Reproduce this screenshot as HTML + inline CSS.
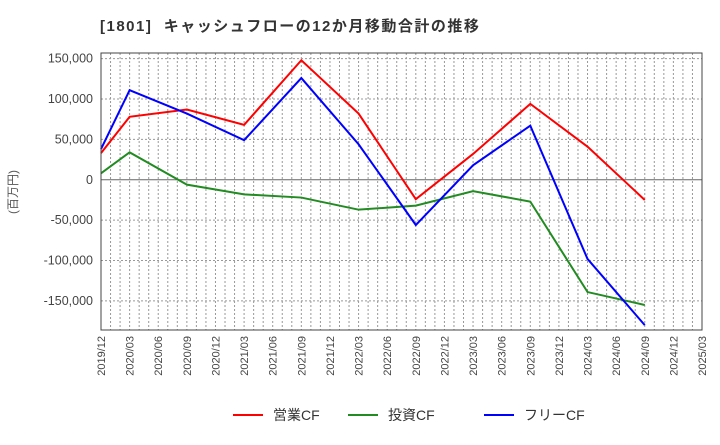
<!DOCTYPE html>
<html><head><meta charset="utf-8"><style>
body{margin:0;background:#fff;font-family:"Liberation Sans","Noto Sans CJK JP",sans-serif;}
svg text{font-family:"Liberation Sans","Noto Sans CJK JP",sans-serif;}
</style></head><body>
<svg id="c" width="720" height="440">
<text x="100" y="31" font-size="15" font-weight="bold" fill="#333" letter-spacing="1.5" xml:space="preserve">[1801]  キャッシュフローの12か月移動合計の推移</text>
<g id="grid"></g><g id="series"></g><g id="axes"></g>
<text transform="translate(17,192) rotate(-90)" text-anchor="middle" font-size="12" fill="#555">(百万円)</text>
<g>
<line x1="233" y1="415" x2="263" y2="415" stroke="#f00" stroke-width="2"/>
<text x="273" y="420" font-size="14" fill="#333">営業CF</text>
<line x1="348" y1="415" x2="378" y2="415" stroke="#228b22" stroke-width="2"/>
<text x="388" y="420" font-size="14" fill="#333">投資CF</text>
<line x1="484" y1="415" x2="514" y2="415" stroke="#00f" stroke-width="2"/>
<text x="524" y="420" font-size="14" fill="#333">フリーCF</text>
</g>
</svg>
<script>
const xLabels=["2019/12","2020/03","2020/06","2020/09","2020/12","2021/03","2021/06","2021/09","2021/12","2022/03","2022/06","2022/09","2022/12","2023/03","2023/06","2023/09","2023/12","2024/03","2024/06","2024/09","2024/12","2025/03"];
const yTicks=[150000,100000,50000,0,-50000,-100000,-150000];
const pointQuarters=[0,1,3,5,7,9,11,13,15,17,19];
const operatingCF=[33000,78000,87000,68000,148000,82000,-24000,32000,94000,41000,-25000];
const investingCF=[8000,34000,-6000,-18000,-22000,-37000,-32000,-14000,-27000,-139000,-155000];
const freeCF=[38000,111000,82000,49000,126000,44000,-56000,18000,67000,-98000,-180000];
const L=101,R=702,T=53,B=330,YMAX=157000,YMIN=-186000;
const NS="http://www.w3.org/2000/svg";
const xq=q=>L+(R-L)*q/(xLabels.length-1);
const y=v=>T+(YMAX-v)/(YMAX-YMIN)*(B-T);
function mk(tag,attrs,parent){const e=document.createElementNS(NS,tag);for(const k in attrs)e.setAttribute(k,attrs[k]);parent.appendChild(e);return e;}
const grid=document.getElementById('grid'),axes=document.getElementById('axes'),ser=document.getElementById('series');
const nMonths=(xLabels.length-1)*3;
for(let m=1;m<nMonths;m++){const x=xq(m/3);
const g=mk('line',{x1:x,x2:x,y1:T,y2:B,stroke:'#999','stroke-dasharray':'2,2','stroke-width':1},grid);

}
yTicks.forEach(v=>{const yy=y(v);
const g=mk('line',{x1:L,x2:R,y1:yy,y2:yy,stroke:v===0?'#666':'#999','stroke-dasharray':v===0?'':'2,2','stroke-width':1},grid);


const t=mk('text',{x:L-8,y:yy+4,'text-anchor':'end','font-size':12.5,fill:'#444'},axes);
t.textContent=v.toLocaleString('en-US');

});
xLabels.forEach((s,i)=>{const x=xq(i);
const t=mk('text',{transform:`translate(${x+4},${B+6}) rotate(-90)`,'text-anchor':'end','font-size':11,fill:'#444'},axes);
t.textContent=s;

});
const frame=mk('rect',{x:L,y:T,width:R-L,height:B-T,fill:'none',stroke:'#444','stroke-width':1},axes);


[[operatingCF,'#f00','operating-cf-line'],[investingCF,'#228b22','investing-cf-line'],[freeCF,'#00f','free-cf-line']].forEach(([d,c,n])=>{
const p=mk('polyline',{points:d.map((v,i)=>xq(pointQuarters[i])+','+y(v)).join(' '),fill:'none',stroke:c,'stroke-width':2},ser);

});
</script>
</body></html>
